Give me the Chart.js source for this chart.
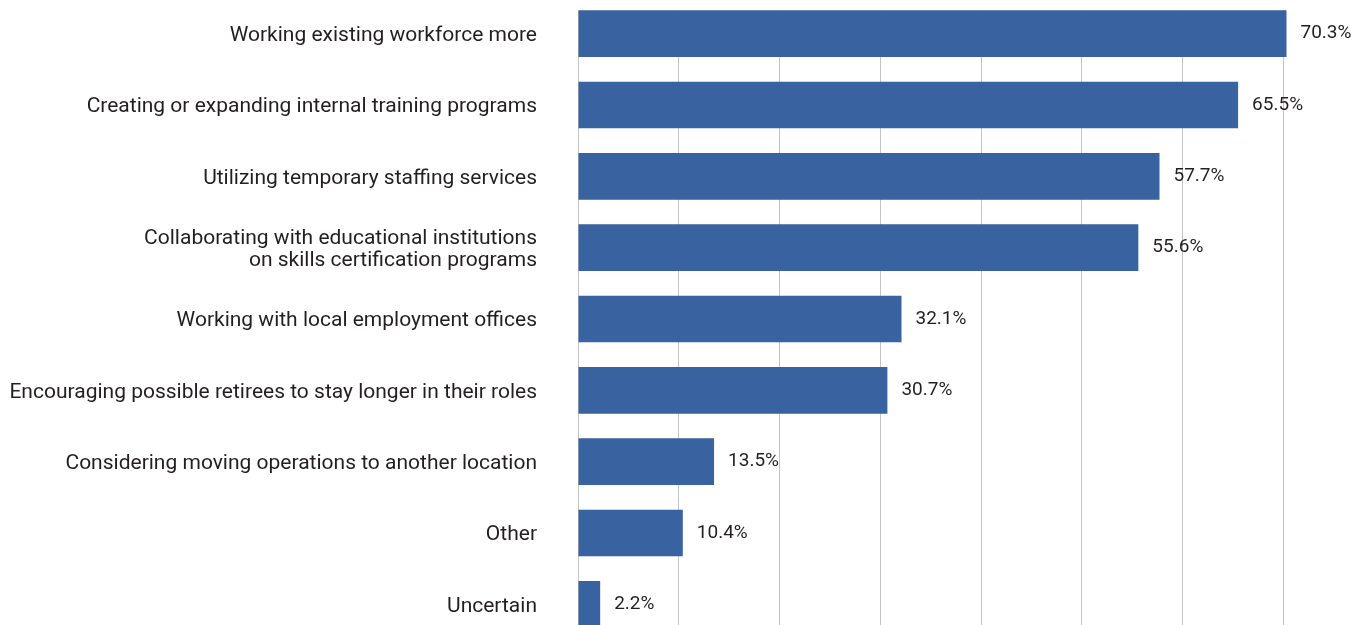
<!DOCTYPE html>
<html>
<head>
<meta charset="utf-8">
<script src="https://cdn.jsdelivr.net/npm/chart.js@4.4.1/dist/chart.umd.min.js"></script>
<style>
  html, body { margin: 0; padding: 0; background: #fff; overflow: hidden; }
  #wrap { position: absolute; left: 0; top: -2px; width: 1354px; height: 642px; }
</style>
</head>
<body>
<div id="wrap"><canvas id="chart"></canvas></div>
<script>
const categories = [
    'Working existing workforce more',
    'Creating or expanding internal training programs',
    'Utilizing temporary staffing services',
    ['Collaborating with educational institutions', 'on skills certification programs'],
    'Working with local employment offices',
    'Encouraging possible retirees to stay longer in their roles',
    'Considering moving operations to another location',
    'Other',
    'Uncertain'
];
const values = [70.3, 65.5, 57.7, 55.6, 32.1, 30.7, 13.5, 10.4, 2.2];
const gridSteps = [0, 10, 20, 30, 40, 50, 60, 70];

const FONT = "Roboto, 'Liberation Sans', sans-serif";
const TEXT = '#231f20';
const BAR = '#3862a0';
const GRID = '#c4c4c4';

// hide the bit of grid above the first bar
const topMask = {
    id: 'topMask',
    beforeDatasetsDraw(chart) {
        const bar = chart.getDatasetMeta(0).data[0];
        const area = chart.chartArea;
        const ctx = chart.ctx;
        ctx.save();
        ctx.fillStyle = '#fff';
        ctx.fillRect(area.left - 2, 0, area.right - area.left + 4, bar.y - bar.height / 2);
        ctx.restore();
    }
};

const valueLabels = {
    id: 'valueLabels',
    afterDatasetsDraw(chart) {
        const ctx = chart.ctx;
        ctx.save();
        ctx.font = '19px ' + FONT;
        ctx.fillStyle = TEXT;
        ctx.textAlign = 'left';
        ctx.textBaseline = 'middle';
        chart.getDatasetMeta(0).data.forEach((bar, i) => {
            ctx.fillText(values[i].toFixed(1) + '%', bar.x + 14, bar.y);
        });
        ctx.restore();
    }
};

new Chart(document.getElementById('chart').getContext('2d'), {
    type: 'bar',
    data: {
        labels: categories,
        datasets: [{
            data: values,
            backgroundColor: BAR,
            borderWidth: 0,
            barPercentage: 0.655,
            categoryPercentage: 1
        }]
    },
    options: {
        indexAxis: 'y',
        responsive: true,
        maintainAspectRatio: false,
        animation: false,
        layout: { padding: 0 },
        plugins: {
            legend: { display: false },
            tooltip: { enabled: false }
        },
        scales: {
            x: {
                min: 0,
                max: 77,
                display: true,
                border: { display: false },
                ticks: { display: false, stepSize: 10 },
                grid: {
                    drawTicks: false,
                    color: (c) => gridSteps.includes(c.tick.value) ? GRID : 'transparent',
                    lineWidth: 1
                }
            },
            y: {
                border: { display: true, color: GRID, width: 1 },
                grid: { display: false, drawTicks: false },
                ticks: {
                    autoSkip: false,
                    padding: 41,
                    labelOffset: 2,
                    color: TEXT,
                    font: { family: FONT, size: 21, lineHeight: 1.05 }
                },
                afterFit(scale) {
                    scale.width = 578;
                    scale.paddingTop = 0;
                    scale.paddingBottom = 0;
                }
            }
        }
    },
    plugins: [topMask, valueLabels]
});
</script>
</body>
</html>
